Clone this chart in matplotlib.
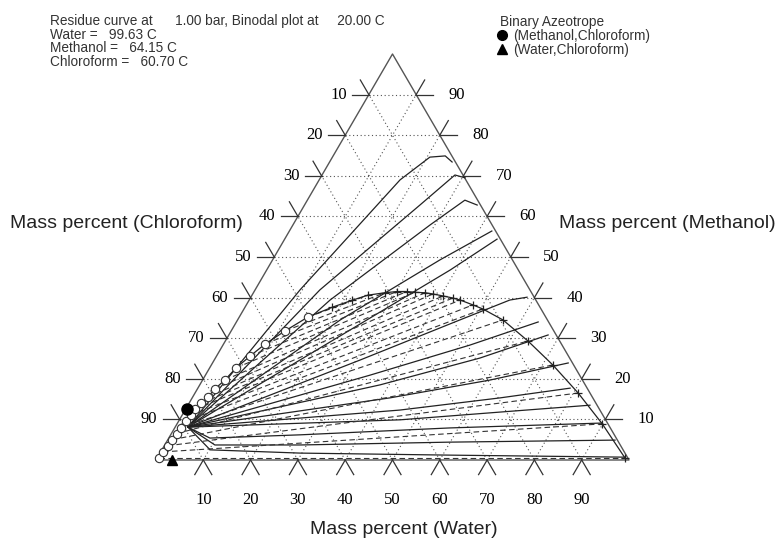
import numpy as np
import matplotlib
matplotlib.use("Agg")
import matplotlib.pyplot as plt

# compositions in mass percent: (water, methanol); chloroform = rest
node = (2.7, 8.1)

residue_curves = [
    [(9.5, 41.9), (17.1, 69.0), (20.6, 74.6), (23.7, 74.9), (25.9, 73.4)],
    [(13.7, 41.9), (24.4, 62.8), (28.1, 70.2), (30.6, 69.5)],
    [(17.1, 39.4), (29.0, 57.9), (33.3, 64.0), (36.5, 62.8)],
    [(21.7, 34.5), (35.4, 49.3), (42.8, 56.4)],
    [(25.0, 32.0), (38.8, 46.8), (44.9, 54.4)],
    [(30.8, 24.6), (47.0, 34.5), (55.1, 39.4), (58.4, 40.1)],
    [(34.8, 20.9), (52.2, 28.3), (63.8, 34.0)],
    [(38.1, 18.5), (55.9, 25.1), (67.5, 30.8)],
    [(41.8, 15.3), (60.8, 19.7), (75.2, 23.9)],
    [(45.4, 12.3), (65.1, 15.3), (78.7, 17.7)],
    [(46.7, 9.9), (66.8, 11.8), (85.0, 13.5)],
    [(8.7, 5.4), (27.4, 6.2), (58.2, 7.9), (89.7, 9.1)],
    [(10.6, 3.7), (28.6, 3.7), (59.9, 4.4), (94.6, 4.9)],
    [(10.2, 2.5), (29.6, 1.7), (61.5, 1.2), (98.8, 0.7)],
]

# binodal, chloroform rich side (circles), bottom to top
org_water = [0.3, 0.5, 0.7, 0.9, 1.1, 1.3, 1.5, 1.8, 2.1, 2.6, 3.2, 3.7, 4.7, 5.6, 7.1, 8.8, 11.4, 14.5]
org_meth = [0.5, 2.0, 3.5, 5.0, 6.5, 8.0, 9.5, 11.0, 12.5, 14.0, 15.5, 17.5, 19.7, 22.7, 25.6, 28.6, 31.8, 35.2]

# binodal, water rich side (plus), left to right
aq_water = [18.4, 21.7, 24.5, 27.8, 30.2, 32.3, 34.1, 36.3, 38.1, 40.5, 42.8, 44.6, 47.9, 50.5,
            56.1, 64.0, 72.2, 81.0, 89.9, 98.9]
aq_meth = [37.6, 39.3, 40.6, 41.2, 41.5, 41.5, 41.3, 41.2, 40.9, 40.4, 39.9, 39.4, 38.2, 37.2,
           34.5, 29.3, 23.4, 16.5, 8.9, 0.5]

azeo_meoh_chcl3 = (0.3, 12.6)
azeo_water_chcl3 = (3.4, 0.0)

ticks = [10, 20, 30, 40, 50, 60, 70, 80, 90]


def tern(w, m):
    w = np.asarray(w, dtype=float) / 100
    m = np.asarray(m, dtype=float) / 100
    return w + m / 2, m * np.sqrt(3) / 2


fig = plt.figure(figsize=(7.83, 5.39), dpi=100)
ax = fig.add_axes([0, 0, 1, 1])
ax.set_xlim(-156 / 473, 627 / 473)
ax.set_ylim(-79 / 468.8, 460 / 468.8)
ax.axis("off")

dark = "#333333"
gridc = "#555555"

# grid
for k in ticks:
    for a, b in [((0, k), (100 - k, k)), ((k, 0), (k, 100 - k)), ((100 - k, 0), (0, 100 - k))]:
        x, y = tern([a[0], b[0]], [a[1], b[1]])
        ax.plot(x, y, color=gridc, lw=0.8, ls=(0, (1, 2.4)))

# frame
x, y = tern([0, 100, 0, 0], [0, 0, 100, 0])
ax.plot(x, y, color="#555555", lw=1.0)

L = 0.036
s3 = np.sqrt(3) / 2
serif = "Liberation Serif"
fs_num = 12
for k in ticks:
    # bottom (water)
    px, py = tern(k, 0)
    ax.plot([px, px - 0.5 * L], [py, py - s3 * L], color=dark, lw=0.9)
    ax.plot([px, px + 0.5 * L], [py, py - s3 * L], color=dark, lw=0.9)
    ax.text(px, -40 / 468.8, str(k), ha="center", va="center", fontsize=fs_num, family=serif)
    # left (chloroform)
    px, py = tern(0, 100 - k)
    ax.plot([px, px - L], [py, py], color=dark, lw=0.9)
    ax.plot([px, px - 0.5 * L], [py, py + s3 * L], color=dark, lw=0.9)
    ax.text(px - L - 0.011, py, str(k), ha="right", va="center", fontsize=fs_num, family=serif)
    # right (methanol)
    px, py = tern(100 - k, k)
    ax.plot([px, px + L], [py, py], color=dark, lw=0.9)
    ax.plot([px, px + 0.5 * L], [py, py + s3 * L], color=dark, lw=0.9)
    ax.text(px + L + 0.032, py, str(k), ha="left", va="center", fontsize=fs_num, family=serif)

# residue curves
for c in residue_curves:
    pts = [node] + c
    x, y = tern([p[0] for p in pts], [p[1] for p in pts])
    ax.plot(x, y, color="#222222", lw=0.9)

# tie lines
n = len(org_water)
aq_w = aq_water[::-1]
aq_m = aq_meth[::-1]
for i in range(n):
    x, y = tern([org_water[i], aq_w[i]], [org_meth[i], aq_m[i]])
    ax.plot(x, y, color="#333333", lw=0.8, ls=(0, (5, 3)))

# binodal curve
bw = org_water + aq_water
bm = org_meth + aq_meth
x, y = tern(bw, bm)
ax.plot(x, y, color="#222222", lw=0.9)
x, y = tern(org_water, org_meth)
ax.plot(x, y, ls="none", marker="o", ms=6, mfc="white", mec="#333333", mew=0.8)
x, y = tern(aq_water, aq_meth)
ax.plot(x, y, ls="none", marker="+", ms=6, color="#222222", mew=0.9)

# azeotropes
x, y = tern(*azeo_meoh_chcl3)
ax.plot(x, y, marker="o", ms=8, color="black")
x, y = tern(*azeo_water_chcl3)
ax.plot(x, y, marker="^", ms=7, color="black")

# axis titles
sans = "Liberation Sans"
fs_title = 14
ax.text(-146 / 473, 236 / 468.8, "Mass percent (Chloroform)", ha="left", va="center",
        fontsize=fs_title, family=sans, color="#222222")
ax.text(403 / 473, 236 / 468.8, "Mass percent (Methanol)", ha="left", va="center",
        fontsize=fs_title, family=sans, color="#222222")
ax.text(248 / 473, -70 / 468.8, "Mass percent (Water)", ha="center", va="center",
        fontsize=fs_title, family=sans, color="#222222")

# header text
fs_info = 9.8
info = ["Residue curve at      1.00 bar, Binodal plot at     20.00 C",
        "Water =   99.63 C",
        "Methanol =   64.15 C",
        "Chloroform =   60.70 C"]
for i, t in enumerate(info):
    fig.text(50 / 783, 1 - (21 + 13.6 * i) / 539, t, ha="left", va="center",
             fontsize=fs_info, family=sans, color="#333333")

fig.text(500 / 783, 1 - 22 / 539, "Binary Azeotrope", ha="left", va="center",
         fontsize=fs_info, family=sans, color="#333333")
fig.text(513 / 783, 1 - 36 / 539, "(Methanol,Chloroform)", ha="left", va="center",
         fontsize=fs_info, family=sans, color="#333333")
fig.text(513 / 783, 1 - 50 / 539, "(Water,Chloroform)", ha="left", va="center",
         fontsize=fs_info, family=sans, color="#333333")
ax.plot([502 / 783], [1 - 35 / 539], marker="o", ms=7, color="black", transform=fig.transFigure)
ax.plot([502 / 783], [1 - 49 / 539], marker="^", ms=7, color="black", transform=fig.transFigure)

fig.savefig("out.png", dpi=100)
